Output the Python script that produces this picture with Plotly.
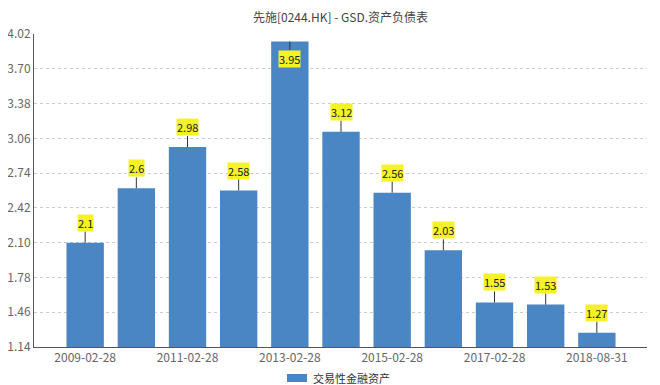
import plotly.graph_objects as go

categories = ["2009-02-28", "2010-02-28", "2011-02-28", "2012-02-29", "2013-02-28",
              "2014-02-28", "2015-02-28", "2016-02-29", "2017-02-28", "2018-02-28", "2018-08-31"]
values = [2.1, 2.6, 2.98, 2.58, 3.95, 3.12, 2.56, 2.03, 1.55, 1.53, 1.27]
value_labels = ["2.1", "2.6", "2.98", "2.58", "3.95", "3.12", "2.56", "2.03", "1.55", "1.53", "1.27"]
y_ticks = [1.14, 1.46, 1.78, 2.10, 2.42, 2.74, 3.06, 3.38, 3.70, 4.02]
y_tick_text = ["1.14", "1.46", "1.78", "2.10", "2.42", "2.74", "3.06", "3.38", "3.70", "4.02"]
x_tick_cats = ["2009-02-28", "2011-02-28", "2013-02-28", "2015-02-28", "2017-02-28", "2018-08-31"]
series_name = "交易性金融资产"
title_text = "先施[0244.HK] - GSD.资产负债表"

FONT = "Noto Sans CJK SC, Open Sans, sans-serif"
BAR_COLOR = "#4a85c4"
# page body has an 8px margin, so the figure is 8px smaller on each axis
OFF = 8
W, H = 660 - OFF, 385 - OFF
ML, MR, MT, MB = 34 - OFF, 13, 34 - OFF, 38

fig = go.Figure()
fig.add_trace(go.Bar(
    x=categories, y=values, name=series_name,
    marker=dict(color=BAR_COLOR, line=dict(width=0)),
    width=0.73, base=0, showlegend=False,
))

y_max = y_ticks[-1]
for c, v, t in zip(categories, values, value_labels):
    inside = v > y_max - 0.2
    fig.add_annotation(
        x=c, y=v, text=t, showarrow=True, arrowhead=0, arrowwidth=1,
        arrowcolor="#333333", ax=0, ay=(8 if inside else -11),
        bgcolor="#f5f227",
        font=dict(size=11, color="#222222", family=FONT), borderpad=0,
        yanchor=("top" if inside else "bottom"),
    )

pw = W - ML - MR
ph = H - MT - MB
def px_to_paper_x(px):
    return (px - OFF - ML) / pw
def py_to_paper_y(py):
    return (H - MB - (py - OFF)) / ph

# legend drawn as shape + text at bottom
fig.add_shape(type="rect", xref="paper", yref="paper",
              x0=px_to_paper_x(287), x1=px_to_paper_x(307),
              y0=py_to_paper_y(382), y1=py_to_paper_y(374),
              fillcolor=BAR_COLOR, line=dict(width=0))
fig.add_annotation(xref="paper", yref="paper", x=px_to_paper_x(311), y=py_to_paper_y(378),
                   text=series_name, showarrow=False, xanchor="left", yanchor="middle",
                   font=dict(size=11, color="#333333", family=FONT))

fig.update_layout(
    width=W, height=H,
    margin=dict(l=ML, r=MR, t=MT, b=MB),
    paper_bgcolor="white", plot_bgcolor="white",
    title=dict(text=title_text, x=0.5, xanchor="center", xref="paper",
               y=1 - 9.5 / H, yanchor="middle",
               font=dict(size=12, color="#444444", family=FONT)),
    font=dict(family=FONT, size=12, color="#666666"),
    showlegend=False,
)
fig.update_xaxes(
    type="category", categoryorder="array", categoryarray=categories,
    range=[-1.0, 10.98],
    tickmode="array", tickvals=x_tick_cats, ticktext=x_tick_cats,
    showline=True, linecolor="#555555", linewidth=1,
    ticks="", showgrid=False, automargin=False,
    tickfont=dict(size=12, color="#666666"),
)
fig.update_yaxes(
    range=[1.14, 4.02],
    tickmode="array", tickvals=y_ticks, ticktext=y_tick_text,
    showline=True, linecolor="#555555", linewidth=1,
    showgrid=True, gridcolor="#cccccc", griddash="dot", gridwidth=1,
    ticks="", zeroline=False, automargin=False, ticklabelstandoff=0,
    tickfont=dict(size=12, color="#666666"),
)

fig.write_html("out.html")
